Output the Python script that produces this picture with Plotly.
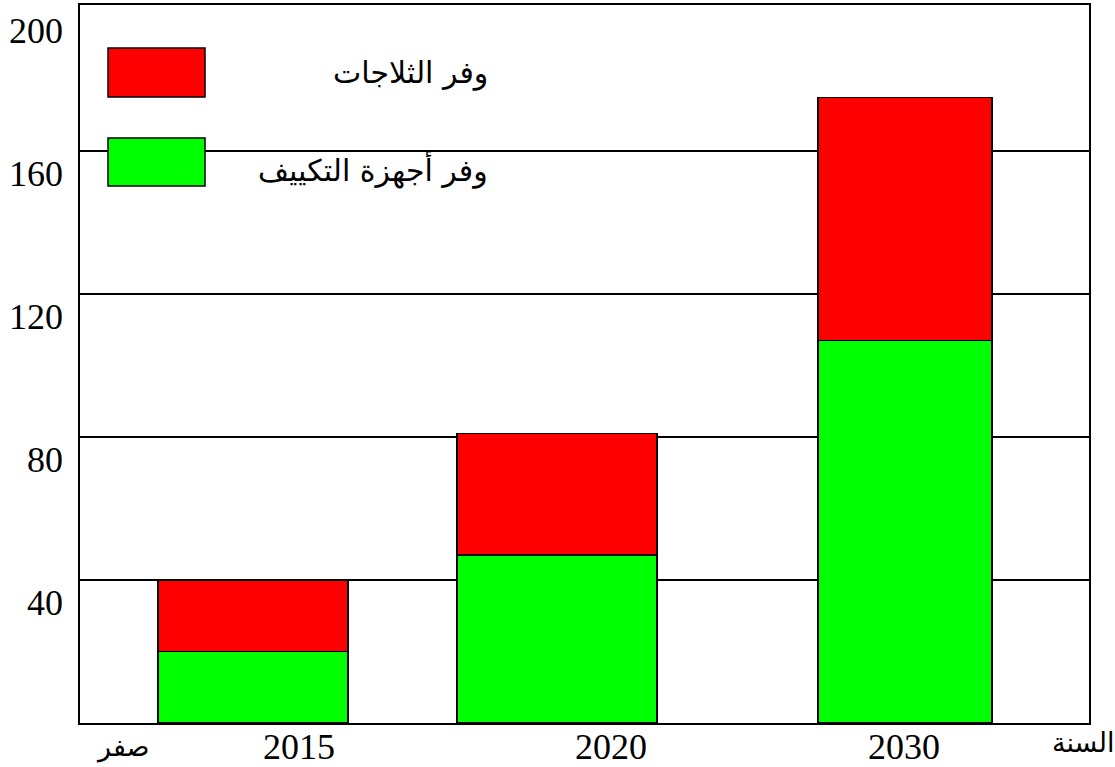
import plotly.graph_objects as go

# ---- data ----
years = ["2015", "2020", "2030"]
ac_savings = [20, 47, 107]        # وفر أجهزة التكييف (green)
fridge_savings = [20, 34, 68]     # وفر الثلاجات (red)
y_ticks = [40, 80, 120, 160, 200]
x_end_labels = ["صفر", "السنة"]
legend_labels = ["وفر الثلاجات", "وفر أجهزة التكييف"]

# ---- layout (pixel-like x coordinates) ----
bar_center = [253, 557, 905]
bar_width = [190, 200, 174]
year_label_pos = [299, 611, 904]
end_label_pos = [122, 1083]

fig = go.Figure()
fig.add_trace(go.Bar(x=bar_center, y=ac_savings, width=bar_width,
                     marker=dict(color="#00ff00", line=dict(color="black", width=1.5)),
                     name=legend_labels[1], showlegend=False))
fig.add_trace(go.Bar(x=bar_center, y=fridge_savings, width=bar_width,
                     marker=dict(color="#ff0000", line=dict(color="black", width=1.5)),
                     name=legend_labels[0], showlegend=False))

fig.update_layout(
    barmode="stack",
    width=1115, height=767,
    margin=dict(l=80, r=26, t=5, b=44, autoexpand=False),
    paper_bgcolor="white", plot_bgcolor="white",
    font=dict(family="Liberation Serif, DejaVu Sans", color="black"),
    xaxis=dict(range=[80, 1089], showticklabels=False, automargin=False,
               showgrid=False, zeroline=False, showline=True, linecolor="black",
               linewidth=2, mirror=True, ticks=""),
    yaxis=dict(range=[0, 200.8], tickvals=y_ticks[:-1], showticklabels=False, automargin=False,
               showgrid=True, gridcolor="black", gridwidth=1.5, zeroline=False,
               showline=True, linecolor="black", linewidth=2, mirror=True, ticks=""),
)

# y tick labels (offset below the gridlines, as in the original)
for v in y_ticks:
    fig.add_annotation(xref="paper", yref="y", x=0, y=v, text=str(v), showarrow=False,
                       xanchor="right", yanchor="middle", xshift=-15, yshift=-23,
                       font=dict(size=36, family="Liberation Serif"))

# x labels
for xp, lab in zip(year_label_pos, years):
    fig.add_annotation(xref="x", yref="paper", x=xp, y=0, text=lab, showarrow=False,
                       xanchor="center", yanchor="middle", yshift=-24,
                       font=dict(size=36, family="Liberation Serif"))
for xp, lab, ys in zip(end_label_pos, x_end_labels, [-24, -19]):
    fig.add_annotation(xref="x", yref="paper", x=xp, y=0, text=lab, showarrow=False,
                       xanchor="center", yanchor="middle", yshift=ys,
                       font=dict(size=27, family="DejaVu Sans"))

# legend drawn as boxes + labels (paper coords)
W, H = 1009, 718
def px_x(p): return (p - 80) / W
def px_y(p): return 1 - (p - 5) / H

legend_colors = ["#ff0000", "#00ff00"]
legend_box_y = [(48, 97), (138, 186)]
legend_text_y = [73, 170]
for col, (y0, y1), ty, lab in zip(legend_colors, legend_box_y, legend_text_y, legend_labels):
    fig.add_shape(type="rect", xref="paper", yref="paper",
                  x0=px_x(108), x1=px_x(205), y0=px_y(y1), y1=px_y(y0),
                  fillcolor=col, line=dict(color="black", width=1.5))
    fig.add_annotation(xref="paper", yref="paper", x=px_x(490), y=px_y(ty),
                       text=lab, showarrow=False, xanchor="right", yanchor="middle",
                       font=dict(size=30, family="DejaVu Sans", color="black"))

fig.write_html("out.html", config={"displayModeBar": False},
               post_script="document.body.style.margin='0';document.body.style.overflow='hidden';")
